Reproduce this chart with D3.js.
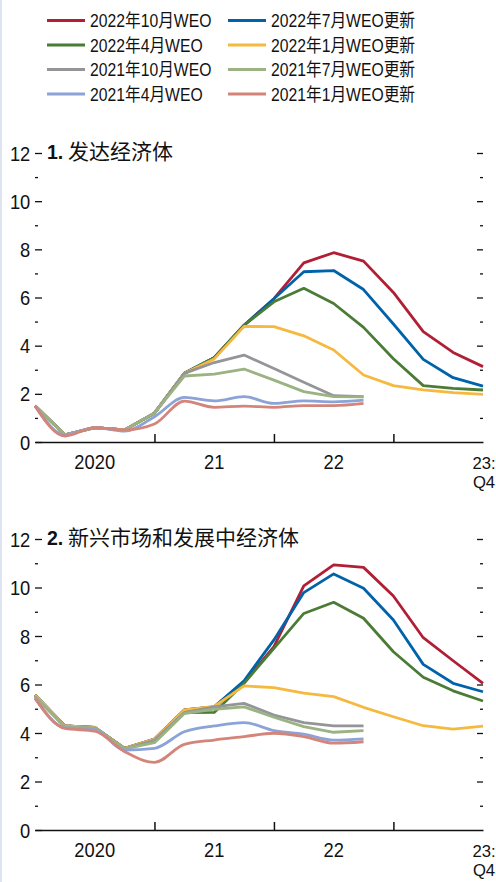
<!DOCTYPE html>
<html>
<head>
<meta charset="utf-8">
<script src="https://cdn.jsdelivr.net/npm/d3@7"></script>
<style>
  html, body { margin: 0; padding: 0; background: #fff; }
  svg { display: block; }
  text { font-family: "Liberation Sans", "Noto Sans CJK SC", sans-serif; fill: #111; }
</style>
</head>
<body>
<svg id="chart" width="496" height="882"></svg>
<script>
// Quarterly horizon, 2020:Q1 – 2023:Q4
const quarters = ["2020:Q1","2020:Q2","2020:Q3","2020:Q4","2021:Q1","2021:Q2","2021:Q3","2021:Q4",
                  "2022:Q1","2022:Q2","2022:Q3","2022:Q4","2023:Q1","2023:Q2","2023:Q3","2023:Q4"];

// Forecast vintages (legend order)
const vintages = ["2022年10月WEO","2022年7月WEO更新","2022年4月WEO","2022年1月WEO更新",
                  "2021年10月WEO","2021年7月WEO更新","2021年4月WEO","2021年1月WEO更新"];
const colors = ["#b01f35","#0063aa","#4a7c35","#f5b93f","#939598","#9bb282","#8ca3d7","#d4857a"];

// Panel 1: advanced economies
const ae_oct22 = [1.5,0.3,0.6,0.5,1.2,2.85,3.5,4.85,5.95,7.44,7.86,7.51,6.21,4.58,3.72,3.13];
const ae_jul22 = [1.5,0.3,0.6,0.5,1.2,2.85,3.5,4.85,5.95,7.07,7.12,6.33,4.90,3.43,2.67,2.32];
const ae_apr22 = [1.5,0.3,0.6,0.5,1.2,2.85,3.5,4.85,5.82,6.38,5.75,4.76,3.46,2.34,2.23,2.16];
const ae_jan22 = [1.5,0.3,0.6,0.5,1.2,2.85,3.45,4.8,4.79,4.41,3.82,2.78,2.34,2.16,2.05,1.98];
const ae_oct21 = [1.5,0.3,0.6,0.5,1.2,2.85,3.3,3.61,3.05,2.48,1.92,1.88];
const ae_jul21 = [1.5,0.3,0.6,0.5,1.2,2.74,2.82,3.03,2.57,2.09,1.88,1.87];
const ae_apr21 = [1.5,0.3,0.6,0.45,1.05,1.85,1.71,1.88,1.6,1.71,1.67,1.74];
const ae_jan21 = [1.5,0.25,0.6,0.5,0.75,1.7,1.44,1.49,1.44,1.51,1.51,1.6];

// Panel 2: emerging market and developing economies
const em_oct22 = [5.57,4.29,4.23,3.37,3.75,4.95,5.08,6.1,7.56,10.07,10.93,10.83,9.65,7.93,6.98,6.05];
const em_jul22 = [5.57,4.29,4.23,3.37,3.75,4.95,5.08,6.15,7.84,9.79,10.56,9.97,8.66,6.83,6.05,5.70];
const em_apr22 = [5.57,4.29,4.23,3.37,3.64,4.84,4.85,6.05,7.49,8.93,9.39,8.73,7.35,6.30,5.74,5.32];
const em_jan22 = [5.57,4.29,4.23,3.37,3.75,4.95,5.1,5.94,5.87,5.64,5.50,5.06,4.67,4.30,4.16,4.28];
const em_oct21 = [5.5,4.25,4.2,3.35,3.7,4.84,5.08,5.22,4.74,4.43,4.29,4.29];
const em_jul21 = [5.5,4.25,4.2,3.35,3.6,4.8,4.98,5.08,4.65,4.26,4.03,4.10];
const em_apr21 = [5.45,4.22,4.15,3.3,3.37,4.05,4.29,4.43,4.10,3.95,3.71,3.76];
const em_jan21 = [5.43,4.19,4.08,3.23,2.79,3.53,3.71,3.85,3.99,3.85,3.58,3.64];

const yearLabels = [{at: 2, text: "2020"}, {at: 6, text: "21"}, {at: 10, text: "22"}];
const lastLabel = ["23:", "Q4"];
const yearTicks = [4, 8, 12];
const yMajor = [0, 2, 4, 6, 8, 10, 12];
const yMinor = [1, 3, 5, 7, 9, 11];

const panels = [
  {num: "1.", title: "发达经济体", series: [ae_oct22, ae_jul22, ae_apr22, ae_jan22, ae_oct21, ae_jul21, ae_apr21, ae_jan21], y0: 442, y12: 153},
  {num: "2.", title: "新兴市场和发展中经济体", series: [em_oct22, em_jul22, em_apr22, em_jan22, em_oct21, em_jul21, em_apr21, em_jan21], y0: 830, y12: 539}
];

const svg = d3.select("#chart");
const AXIS_FS = 19.5, AXIS_K = 0.94;     // condensed axis type
const LEG_FS = 18.5, LEG_K = 0.85;       // condensed legend type

// thin page edge on the left
svg.append("rect").attr("x", 0).attr("y", 0).attr("width", 2).attr("height", 882).attr("fill", "#dfe3f1");

// Legend
const legend = svg.append("g");
vintages.forEach((name, i) => {
  const col = i % 2, row = Math.floor(i / 2);
  const lx = col === 0 ? 47 : 228;
  const ly = 20.5 + row * 24.5;
  legend.append("line").attr("x1", lx).attr("x2", lx + 38).attr("y1", ly).attr("y2", ly)
    .attr("stroke", colors[i]).attr("stroke-width", 3);
  legend.append("text").attr("transform", `translate(${lx + 43},${ly + 6.8}) scale(${LEG_K},1)`)
    .attr("font-size", LEG_FS).text(name);
});

const x = d3.scaleLinear().domain([0, quarters.length - 1]).range([35, 483]);

panels.forEach(p => {
  const y = d3.scaleLinear().domain([0, 12]).range([p.y0, p.y12]);
  const g = svg.append("g");

  // left axis: labelled majors, short minors, ticks pointing inward
  const left = g.append("g").attr("transform", `translate(35,0)`)
    .call(d3.axisLeft(y).tickValues(yMajor).tickSize(-7).tickPadding(5).tickFormat(d3.format("d")));
  left.select(".domain").remove();
  left.selectAll("line").attr("stroke", "#111").attr("stroke-width", 1.3);
  left.selectAll("text").attr("font-size", AXIS_FS).attr("font-family", "Liberation Sans")
    .attr("fill", "#111").attr("dy", "0.36em").attr("transform", `scale(${AXIS_K},1)`);
  const leftMinor = g.append("g").attr("transform", `translate(35,0)`)
    .call(d3.axisLeft(y).tickValues(yMinor).tickSize(-3).tickFormat(""));
  leftMinor.select(".domain").remove();
  leftMinor.selectAll("line").attr("stroke", "#111").attr("stroke-width", 1.3);

  // right axis ticks
  const right = g.append("g").attr("transform", `translate(483,0)`)
    .call(d3.axisRight(y).tickValues(yMajor.filter(v => v > 0)).tickSize(-6).tickFormat(""));
  right.select(".domain").remove();
  right.selectAll("line").attr("stroke", "#111").attr("stroke-width", 1.3);
  const rightMinor = g.append("g").attr("transform", `translate(483,0)`)
    .call(d3.axisRight(y).tickValues(yMinor).tickSize(-3).tickFormat(""));
  rightMinor.select(".domain").remove();
  rightMinor.selectAll("line").attr("stroke", "#111").attr("stroke-width", 1.3);

  // lines: the two oldest vintages are drawn as smooth curves
  const lineLinear = d3.line().x((d, i) => x(i)).y(d => y(d));
  const lineSmooth = d3.line().x((d, i) => x(i)).y(d => y(d)).curve(d3.curveMonotoneX);
  p.series.forEach((s, i) => {
    g.append("path").datum(s)
      .attr("d", i >= 6 ? lineSmooth : lineLinear)
      .attr("fill", "none").attr("stroke", colors[i]).attr("stroke-width", 2.8)
      .attr("stroke-linejoin", "round");
  });

  // bottom axis with year separators
  const bottom = g.append("g").attr("transform", `translate(0,${p.y0})`)
    .call(d3.axisBottom(x).tickValues(yearTicks).tickSize(-8).tickSizeOuter(0).tickFormat(""));
  bottom.select(".domain").attr("stroke", "#111").attr("stroke-width", 1.5);
  bottom.selectAll(".tick line").attr("stroke", "#111").attr("stroke-width", 1.5);

  yearLabels.forEach(l => {
    g.append("text").attr("transform", `translate(${x(l.at)},${p.y0 + 26.5}) scale(${AXIS_K},1)`)
      .attr("text-anchor", "middle").attr("font-size", AXIS_FS).text(l.text);
  });
  // final quarter label on two lines
  const last = g.append("text").attr("transform", `translate(${x(15) + 1},${p.y0 + 26.5}) scale(0.98,1)`)
    .attr("text-anchor", "middle").attr("font-size", 17);
  last.append("tspan").attr("x", 0).attr("y", 0).text(lastLabel[0]);
  last.append("tspan").attr("x", 0).attr("y", 19.5).text(lastLabel[1]);

  // panel title
  const t = g.append("text").attr("y", y(12)).attr("dy", "0.36em");
  t.append("tspan").attr("x", 47).attr("font-weight", "bold").attr("font-size", AXIS_FS)
    .attr("font-family", "Liberation Sans").text(p.num);
  t.append("tspan").attr("x", 68).attr("font-size", 21)
    .attr("font-family", "Noto Sans CJK SC").text(p.title);
});
</script>
</body>
</html>
